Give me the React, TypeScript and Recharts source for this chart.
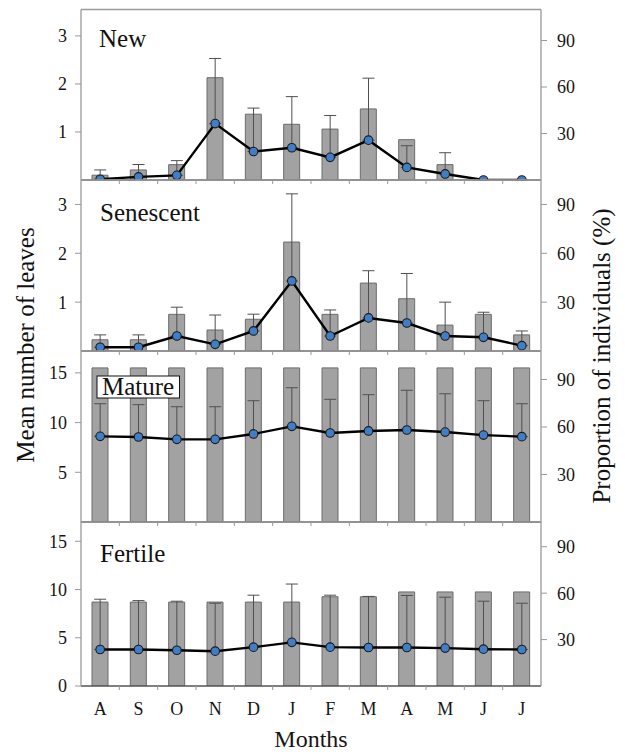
import React from 'react';
import { ComposedChart, Bar, Line, XAxis, YAxis, ErrorBar, ReferenceLine } from 'recharts';

const months = ['A', 'S', 'O', 'N', 'D', 'J', 'F', 'M', 'A', 'M', 'J', 'J'];
const monthTicks = [0, 1, 2, 3, 4, 5, 6, 7, 8, 9, 10, 11];
const boundaryTicks = [0.5, 1.5, 2.5, 3.5, 4.5, 5.5, 6.5, 7.5, 8.5, 9.5, 10.5];

const newLeaves = [0.1, 0.21, 0.32, 2.13, 1.37, 1.16, 1.06, 1.48, 0.84, 0.32, 0, 0];
const newProportion = [0.5, 2, 3, 36.4, 18.4, 20.8, 14.6, 25.7, 8.1, 3.9, 0, 0];
const newError = [6, 8, 9.5, 42, 28, 33, 27, 40, 14, 13.7, 0, 0];

const senescentLeaves = [0.23, 0.23, 0.75, 0.43, 0.65, 2.23, 0.75, 1.39, 1.07, 0.53, 0.75, 0.33];
const senescentProportion = [2.3, 2.3, 9.2, 4.1, 12.3, 43, 9.2, 20.3, 17.2, 9.2, 8.4, 3.3];
const senescentError = [7.6, 7.6, 17.7, 18, 10.3, 53.5, 16, 29, 30.4, 20.8, 15.4, 9];

const matureLeaves = [15.5, 15.5, 15.5, 15.5, 15.5, 15.5, 15.5, 15.5, 15.5, 15.5, 15.5, 15.5];
const matureProportion = [54.1, 53.7, 52.2, 52.2, 55.6, 60.4, 56.2, 57.5, 58.1, 56.8, 54.9, 53.9];
const matureError = [20.6, 20.4, 20.6, 20.6, 21, 24.4, 21.3, 22.9, 25.1, 24.2, 21.7, 20.8];

const fertileLeaves = [8.7, 8.7, 8.7, 8.7, 8.7, 8.7, 9.25, 9.25, 9.75, 9.75, 9.75, 9.75];
const fertileProportion = [23.6, 23.6, 23.1, 22.5, 25.1, 28.2, 25.1, 24.9, 24.9, 24.5, 23.8, 23.6];
const fertileError = [32.5, 31.6, 31.7, 31, 33.6, 37.7, 33.6, 33, 33.6, 32.9, 31, 29.9];

const smallLeafTicks = [1, 2, 3];
const largeLeafTicks = [5, 10, 15];
const bottomLeafTicks = [0, 5, 10, 15];
const proportionTicks = [30, 60, 90];

const FONT = 'Liberation Serif, Times New Roman, serif';
const W = 625;
const H = 754;

type PanelCfg = {
  name: string;
  bars: number[];
  prop: number[];
  err: number[];
  leftDomain: [number, number];
  rightDomain: [number, number];
  leftTicks: number[];
  top: number;
  bottom: number;
  last: boolean;
};

const panels: PanelCfg[] = [
  { name: 'new', bars: newLeaves, prop: newProportion, err: newError, leftDomain: [0, 3.55], rightDomain: [0, 110], leftTicks: smallLeafTicks, top: 9.5, bottom: 180, last: false },
  { name: 'sen', bars: senescentLeaves, prop: senescentProportion, err: senescentError, leftDomain: [0, 3.5], rightDomain: [0, 105], leftTicks: smallLeafTicks, top: 180, bottom: 351, last: false },
  { name: 'mat', bars: matureLeaves, prop: matureProportion, err: matureError, leftDomain: [0, 17.2], rightDomain: [0, 108], leftTicks: largeLeafTicks, top: 351, bottom: 522, last: false },
  { name: 'fer', bars: fertileLeaves, prop: fertileProportion, err: fertileError, leftDomain: [0, 17], rightDomain: [0, 106], leftTicks: bottomLeafTicks, top: 522, bottom: 686, last: true },
];

const tickStyle = { fontSize: 18, fontFamily: FONT, fill: '#151515' };

function Panel({ cfg }: { cfg: PanelCfg }) {
  const data = months.map((m, i) => ({
    x: i,
    bar: cfg.bars[i],
    prop: cfg.prop[i],
    err: [0, cfg.err[i]],
  }));
  const labelAxisH = 67;
  const marginBottom = cfg.last ? H - cfg.bottom - 1 - labelAxisH : H - cfg.bottom - 1;
  return (
    <ComposedChart
      width={W}
      height={H}
      data={data}
      margin={{ top: cfg.top, bottom: marginBottom, left: 41, right: 44 }}
    >
      <XAxis
        xAxisId={0}
        dataKey="x"
        type="number"
        domain={[-0.5, 11.5]}
        ticks={boundaryTicks}
        interval={0}
        height={1}
        tickSize={4}
        tick={() => <g />}
        tickLine={{ stroke: '#9a9a9a', strokeWidth: 1 }}
        axisLine={{ stroke: '#555', strokeWidth: 1.3 }}
      />
      {cfg.last && (
        <XAxis
          xAxisId="labels"
          dataKey="x"
          type="number"
          domain={[-0.5, 11.5]}
          ticks={monthTicks}
          interval={0}
          height={labelAxisH}
          tickSize={4}
          tickMargin={11}
          tickLine={false}
          axisLine={false}
          tickFormatter={(v: number) => months[v]}
          tick={tickStyle}
          label={{ value: 'Months', position: 'insideBottom', offset: 7, fontSize: 24, fontFamily: FONT, fill: '#151515' }}
        />
      )}
      <YAxis
        yAxisId="left"
        orientation="left"
        type="number"
        domain={cfg.leftDomain}
        ticks={cfg.leftTicks}
        interval={0}
        width={40}
        tickSize={6}
        tickMargin={8}
        tick={tickStyle}
        tickLine={{ stroke: '#9a9a9a' }}
        axisLine={{ stroke: '#9a9a9a', strokeWidth: 1.3 }}
        allowDataOverflow
      />
      <YAxis
        yAxisId="right"
        orientation="right"
        type="number"
        domain={cfg.rightDomain}
        ticks={proportionTicks}
        interval={0}
        width={40}
        tickSize={6}
        tickMargin={10}
        tick={tickStyle}
        tickLine={{ stroke: '#9a9a9a' }}
        axisLine={{ stroke: '#9a9a9a', strokeWidth: 1.3 }}
        allowDataOverflow
      />
      <ReferenceLine yAxisId="left" y={cfg.leftDomain[1]} stroke="#9a9a9a" strokeWidth={1.3} />
      <Bar
        yAxisId="left"
        dataKey="bar"
        barSize={16}
        fill="#a2a2a2"
        stroke="#6c6c6c"
        strokeWidth={1}
        isAnimationActive={false}
      />
      <Line
        yAxisId="right"
        dataKey="prop"
        type="linear"
        stroke="#000"
        strokeWidth={2.4}
        dot={{ r: 4.3, fill: '#3f7fca', stroke: '#1b1b1b', strokeWidth: 1.1 }}
        activeDot={false}
        isAnimationActive={false}
      >
        <ErrorBar dataKey="err" direction="y" width={6} stroke="#505050" strokeWidth={1} isAnimationActive={false} />
      </Line>
    </ComposedChart>
  );
}

export default function App() {
  return (
    <div style={{ position: 'absolute', left: 0, top: 0, width: W, height: H, background: '#fff' }}>
      {panels.map((p) => (
        <div key={p.name} style={{ position: 'absolute', left: 0, top: 0 }}>
          <Panel cfg={p} />
        </div>
      ))}
      <svg width={W} height={H} style={{ position: 'absolute', left: 0, top: 0, pointerEvents: 'none' }}>
        <g fontFamily={FONT} fill="#111">
          <text x={99} y={47} fontSize={25}>New</text>
          <text x={100} y={221} fontSize={25}>Senescent</text>
          <rect x={97} y={376} width={82.5} height={22} fill="#fff" stroke="#111" strokeWidth={1} />
          <text x={102} y={395} fontSize={25}>Mature</text>
          <text x={100} y={562} fontSize={25}>Fertile</text>
          <text x={25} y={345} fontSize={25} textAnchor="middle" dominantBaseline="central" transform="rotate(-90 25 345)">
            Mean number of leaves
          </text>
          <text x={601} y={356} fontSize={25} textAnchor="middle" dominantBaseline="central" transform="rotate(-90 601 356)">
            Proportion of individuals (%)
          </text>
        </g>
      </svg>
    </div>
  );
}
